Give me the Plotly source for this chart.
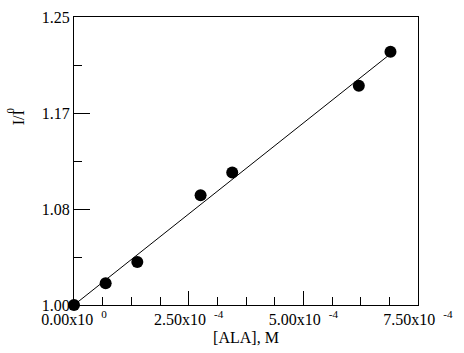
import plotly.graph_objects as go

# data
conc = [0.0, 0.69e-4, 1.38e-4, 2.76e-4, 3.45e-4, 6.21e-4, 6.90e-4]
ratio = [1.000, 1.0188, 1.0374, 1.0952, 1.1151, 1.1903, 1.2199]
fit_x = [0.0, 6.90e-4]
fit_y = [1.000, 1.2180]

x_tickvals = [0.0, 2.5e-4, 5.0e-4, 7.5e-4]
x_ticktext = ["0.00x10&nbsp;&nbsp;<sup>0</sup>", "2.50x10&nbsp;&nbsp;<sup>-4</sup>",
              "5.00x10&nbsp;&nbsp;<sup>-4</sup>", "7.50x10&nbsp;&nbsp;<sup>-4</sup>"]
y_tickvals = [1.0, 1.0 + 0.25/3, 1.0 + 0.5/3, 1.25]
y_ticktext = ["1.00", "1.08", "1.17", "1.25"]

FONT = "Liberation Serif, Times New Roman, serif"

fig = go.Figure()
fig.add_trace(go.Scatter(x=fit_x, y=fit_y, mode="lines",
                         line=dict(color="black", width=1), showlegend=False))
fig.add_trace(go.Scatter(x=conc, y=ratio, mode="markers",
                         marker=dict(color="black", size=12, symbol="circle"),
                         showlegend=False, cliponaxis=False))

L, R, T, B = 74, 46, 9, 48
W, H = 464, 353
PW, PH = W - L - R, H - T - B

def px(x):
    return (x - L) / PW

def py(y):
    return (H - B - y) / PH

fig.update_layout(
    width=W, height=H,
    margin=dict(l=L, r=R, t=T, b=B),
    paper_bgcolor="white", plot_bgcolor="white",
    font=dict(family=FONT, size=16, color="black"),
    xaxis=dict(range=[0, 7.5e-4], tickvals=x_tickvals, ticktext=x_ticktext,
               ticks="inside", ticklen=14, tickwidth=1, tickcolor="black",
               minor=dict(dtick=0.625e-4, tick0=0, ticks="inside", ticklen=8,
                          tickwidth=1, tickcolor="black", showgrid=False),
               showline=True, linecolor="black", linewidth=1, mirror=True,
               showgrid=False, zeroline=False,
               title=dict(text="[ALA], M", font=dict(size=16), standoff=4)),
    yaxis=dict(range=[1.0, 1.25], tickvals=y_tickvals, ticktext=y_ticktext,
               ticks="inside", ticklen=16, tickwidth=1, tickcolor="black",
               minor=dict(dtick=0.25/6, tick0=1.0, ticks="inside", ticklen=8,
                          tickwidth=1, tickcolor="black", showgrid=False),
               showline=True, linecolor="black", linewidth=1, mirror=True,
               showgrid=False, zeroline=False),
    annotations=[
        dict(text="I/I", x=px(18), y=py(112), xref="paper", yref="paper",
             showarrow=False, textangle=-90, font=dict(size=16),
             xanchor="center", yanchor="middle"),
        dict(text="0", x=px(10), y=py(105), xref="paper", yref="paper",
             showarrow=False, textangle=-90, font=dict(size=11),
             xanchor="center", yanchor="middle"),
    ],
)
fig.write_html("out.html")
